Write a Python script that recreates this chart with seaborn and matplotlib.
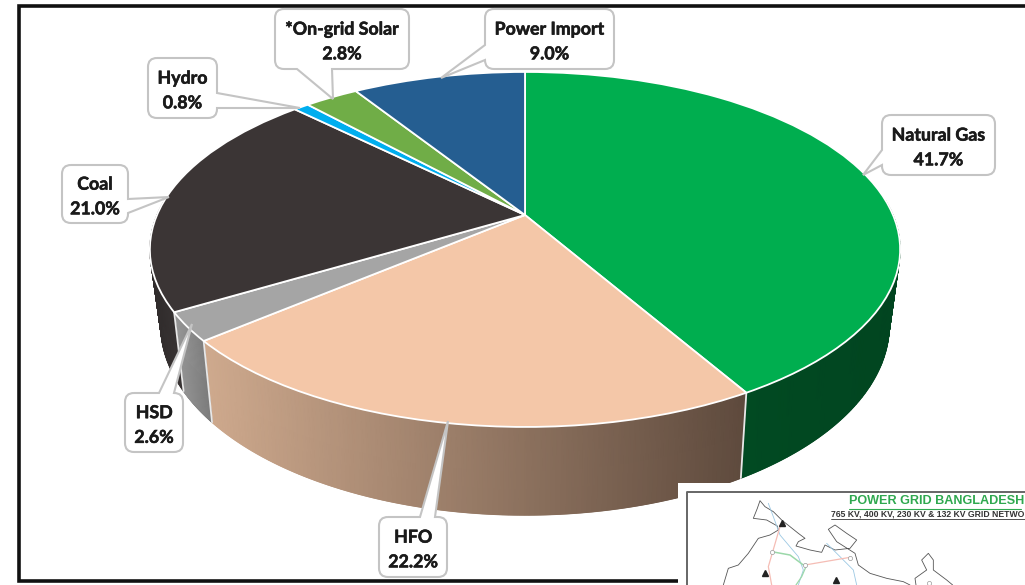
import numpy as np
import matplotlib
matplotlib.use("Agg")
import matplotlib.pyplot as plt
import matplotlib.patheffects as pe
import seaborn as sns
from matplotlib.collections import LineCollection
from matplotlib.patches import PathPatch, Rectangle
from matplotlib.path import Path
from matplotlib.transforms import Transform

# ── Data ──────────────────────────────────────────────
labels = ["Natural Gas", "HFO", "HSD", "Coal", "Hydro", "*On-grid Solar", "Power Import"]
shares = [41.7, 22.2, 2.6, 21.0, 0.8, 2.8, 9.0]
top_colors = ["#00AE4F", "#F4C7A8", "#A5A5A5", "#3B3535", "#00AEEF", "#70AD47", "#255E91"]
side_colors = [("#014A22", "#014520"), ("#CFAA8E", "#5E4A3D"), ("#9A9A9A", "#7A7A7A"),
               ("#2F2B2B", "#3A3535"), ("#0088BB", "#0088BB"), ("#55853A", "#55853A"),
               ("#1B4569", "#1B4569")]

# ── Callout boxes, in pixels: box, tail side, tail base, tail tip ──
callouts = {
    "Natural Gas":    ((882, 115, 995, 175), "left", (150, 165), (863, 175)),
    "HFO":            ((379, 517, 447, 577), "top", (420, 435), (448, 421)),
    "HSD":            ((125, 393, 183, 452), "top", (159, 174), (192, 324)),
    "Coal":           ((62, 165, 128, 223), "right", (199, 213), (169, 197)),
    "Hydro":          ((148, 58, 217, 118), "right", (93, 108), (300, 108)),
    "*On-grid Solar": ((275, 9, 409, 69), "bottom", (297, 332), (333, 99)),
    "Power Import":   ((485, 9, 614, 69), "left", (45, 60), (441, 78)),
}

# ── Projection of the pie disc ────────────────────────
CX, CY = 525, 215
SX, SY, TILT = 368, 170.8, 0.194
DEPTH = 71


class DiscProjection(Transform):
    input_dims = 2
    output_dims = 2
    is_affine = False

    def transform_non_affine(self, values):
        values = np.asarray(values)
        w = 1 + TILT * values[:, 1]
        return np.column_stack([CX + SX * values[:, 0] / w, CY - SY * values[:, 1] / w])


def rim_points(angle):
    # angle is in degrees, clockwise from 12 o'clock
    a = np.radians(angle)
    u, v = np.sin(a), np.cos(a)
    w = 1 + TILT * v
    x, y = CX + SX * u / w, CY - SY * v / w
    return (x, y), (x - 11 * u, y + DEPTH / w)


def callout_path(box, side, base, tip, r=9):
    x0, y0, x1, y1 = box
    verts, codes = [(x0 + r, y0)], [Path.MOVETO]

    def corner(c, end):
        verts.extend([c, end])
        codes.extend([Path.CURVE3, Path.CURVE3])

    def tail(a, b):
        verts.extend([a, tip, b])
        codes.extend([Path.LINETO] * 3)

    def line(p):
        verts.append(p)
        codes.append(Path.LINETO)

    if side == "top":
        tail((base[0], y0), (base[1], y0))
    line((x1 - r, y0))
    corner((x1, y0), (x1, y0 + r))
    if side == "right":
        tail((x1, base[0]), (x1, base[1]))
    line((x1, y1 - r))
    corner((x1, y1), (x1 - r, y1))
    if side == "bottom":
        tail((base[1], y1), (base[0], y1))
    line((x0 + r, y1))
    corner((x0, y1), (x0, y1 - r))
    if side == "left":
        tail((x0, base[1]), (x0, base[0]))
    line((x0, y0 + r))
    corner((x0, y0), (x0 + r, y0))
    return Path(verts, codes)


# ── Figure ────────────────────────────────────────────
sns.set_theme(style="white")
plt.rcParams["font.family"] = ["Lato", "DejaVu Sans"]

fig = plt.figure(figsize=(10.25, 5.85), dpi=100)
ax = fig.add_axes([0, 0, 1, 1])

wedges, _ = ax.pie(shares, startangle=90, counterclock=False, colors=top_colors,
                   wedgeprops=dict(edgecolor="white", linewidth=1.3, zorder=5))
ax.set_aspect("auto")
ax.set_xlim(0, 1025)
ax.set_ylim(585, 0)
ax.set_axis_off()

disc = DiscProjection() + ax.transData
for w in wedges:
    w.set_transform(disc)

# side walls, painted under the top faces
edges = np.concatenate([[0], np.cumsum(shares)]) / sum(shares) * 360
for i in range(len(shares)):
    start, end = max(edges[i], 85), min(edges[i + 1], 275)
    if end <= start:
        continue
    steps = np.linspace(start, end, 120)
    tops, bots = zip(*[rim_points(a) for a in steps])
    xx = np.array([[p[0] for p in tops], [p[0] for p in bots]])
    yy = np.array([[p[1] for p in tops], [p[1] for p in bots]])
    ramp = sns.blend_palette(side_colors[i], as_cmap=True)
    ax.pcolormesh(xx, yy, xx, shading="gouraud", cmap=ramp, zorder=2)
    # smooth lower edge, the mesh itself has jagged borders
    pts = np.column_stack([xx[1], yy[1]])
    segs = np.stack([pts[:-1], pts[1:]], axis=1)
    ax.add_collection(LineCollection(segs, array=xx[1][:-1], cmap=ramp, lw=1.0,
                                     clim=(xx.min(), xx.max()), zorder=2), autolim=False)

# white seams between the walls
for e in edges[1:4]:
    top, bot = rim_points(e)
    ax.plot(*zip(top, bot), color="#E8E8E8", lw=1.3, zorder=3)

# frame
ax.plot([1025, 19, 19, 1025], [5.5, 5.5, 581, 581], color="#111111", lw=2.6, zorder=6,
        solid_joinstyle="miter")

# callouts
for name, share in zip(labels, shares):
    box, side, base, tip = callouts[name]
    ax.add_patch(PathPatch(callout_path(box, side, base, tip), facecolor="white",
                           edgecolor="#C4C4C4", lw=1.5, zorder=7))
    ax.text((box[0] + box[2]) / 2, (box[1] + box[3]) / 2 + 2.5, f"{name}\n{share:.1f}%",
            ha="center", va="center", fontsize=12.8, fontweight="bold",
            color="#1A1A1A", linespacing=1.55, zorder=8,
            path_effects=[pe.withStroke(linewidth=0.4, foreground="#1A1A1A")])

# inset map in the lower right corner
ax.add_patch(Rectangle((678, 483), 350, 105, facecolor="white", edgecolor="none", zorder=9))
ax.plot([1025, 687, 687], [492, 492, 585], color="#666666", lw=1.4, zorder=10)


def map_line(points, color, lw):
    pts = np.array(points, dtype=float) / 3 + [670, 470]
    ax.plot(pts[:, 0], pts[:, 1], color=color, lw=lw, zorder=10)


border = "#555555"
map_line([(160, 345), (175, 295), (205, 285), (235, 250), (265, 205), (300, 195), (325, 180),
          (322, 168), (290, 150), (250, 145), (262, 115), (270, 92), (285, 110), (310, 125),
          (335, 150), (360, 170), (385, 190), (405, 205), (385, 215), (378, 228), (420, 240),
          (455, 247), (465, 225), (495, 240), (540, 235), (560, 210), (530, 190), (495, 165),
          (475, 178), (500, 215), (555, 250), (565, 285), (600, 310), (650, 325), (700, 335),
          (720, 345)], border, 0.6)
map_line([(738, 345), (735, 325), (770, 300), (755, 270), (775, 250), (790, 270), (790, 300),
          (830, 330), (848, 345)], border, 0.6)
map_line([(295, 100), (310, 140), (330, 195), (385, 260), (400, 300), (385, 345)], "#9CC8E3", 0.6)
map_line([(470, 220), (550, 300), (560, 345)], "#9CC8E3", 0.6)
map_line([(330, 170), (295, 290), (305, 345)], "#F5BDB5", 0.9)
map_line([(405, 285), (540, 262)], "#F5BDB5", 0.9)
map_line([(305, 245), (360, 255), (400, 285)], "#9BD8A9", 1.1)
map_line([(408, 290), (395, 320), (378, 345)], "#9BD8A9", 0.9)
for mx, my in [(335, 160), (285, 310), (497, 330)]:
    ax.plot(670 + mx / 3, 470 + my / 3, marker="^", ms=4, color="#222222", zorder=11)
for mx, my in [(305, 245), (405, 285), (540, 264), (778, 340)]:
    ax.plot(670 + mx / 3, 470 + my / 3, marker="o", ms=3, mfc="white", mec="#999999",
            mew=0.5, zorder=11)

ax.text(849, 500.5, "POWER GRID BANGLADESH", fontsize=9.1, fontweight="bold", color="#2FA84F",
        family="Liberation Sans", ha="left", va="center", zorder=11)
ax.plot([849, 1021], [508.5, 508.5], color="#2FA84F", lw=0.8, zorder=11)
ax.text(831, 514, "765 KV, 400 KV, 230 KV & 132 KV GRID NETWO", fontsize=6.2,
        fontweight="bold", color="#333333", family="Liberation Sans", ha="left", va="center",
        zorder=11)
ax.plot([831, 1025], [518.5, 518.5], color="#333333", lw=0.6, zorder=11)

plt.savefig("out.png", dpi=100)
